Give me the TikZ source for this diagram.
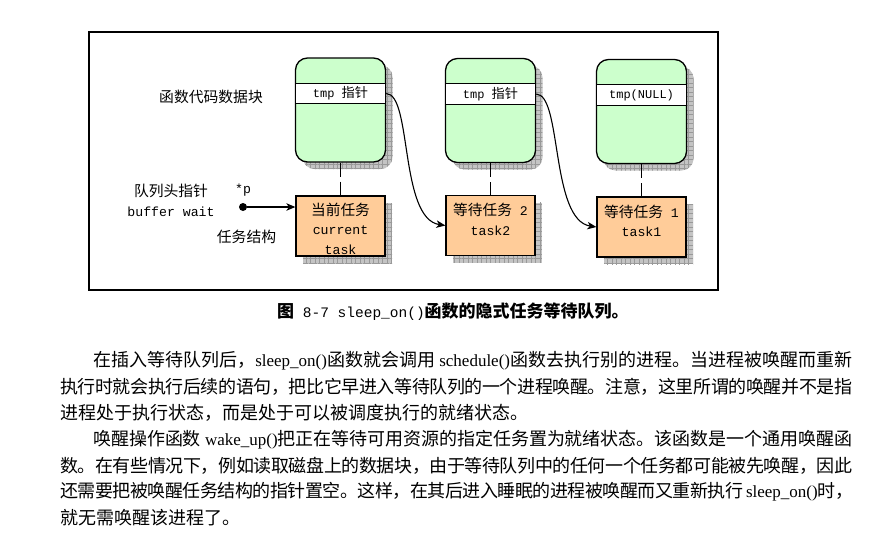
\documentclass[tikz,border=0pt]{standalone}
\usepackage{fontspec}
\setmainfont{Liberation Serif}
\setmonofont{Liberation Mono}
\newfontfamily\cjkfont{Noto Sans CJK SC}
\usetikzlibrary{positioning,arrows.meta,shadows,patterns.meta}

\definecolor{blockgreen}{HTML}{CCFFCC}
\definecolor{taskorange}{HTML}{FFCC99}
\definecolor{shadowgray}{HTML}{C4C4C4}

% CJK runs switch to the CJK font by themselves
\newcount\cjkcnt
\ifdefined\newXeTeXintercharclass \newXeTeXintercharclass\cjkcls \else \chardef\cjkcls=7 \fi
\cjkcnt="3000
\loop \XeTeXcharclass\cjkcnt=\cjkcls \advance\cjkcnt by 1 \ifnum\cjkcnt<"3040 \repeat
\cjkcnt="4E00
\loop \XeTeXcharclass\cjkcnt=\cjkcls \advance\cjkcnt by 1 \ifnum\cjkcnt<"A000 \repeat
\cjkcnt="FF00
\loop \XeTeXcharclass\cjkcnt=\cjkcls \advance\cjkcnt by 1 \ifnum\cjkcnt<"FFF0 \repeat
\newcommand\cjkhook{\cjkfont}
\XeTeXinterchartoks 0 \cjkcls = {\begingroup\cjkhook}
\XeTeXinterchartoks 4095 \cjkcls = {\begingroup\cjkhook}
\XeTeXinterchartoks \cjkcls 0 = {\endgroup}
\XeTeXinterchartoks \cjkcls 4095 = {\endgroup}
\XeTeXinterchartoks \cjkcls \cjkcls = {\hskip 0pt plus 2pt minus 0.5pt\relax}
\XeTeXinterchartokenstate=1

% latin size, CJK size, baselineskip
\newcommand\mixfont[3]{\fontsize{#1}{#3}\selectfont
  \def\cjkhook{\cjkfont\fontsize{#2}{#3}\selectfont}}

\tikzset{
  grid shadow/.style={
    drop shadow={shadow xshift=7pt,shadow yshift=-7pt,fill=shadowgray,opacity=1},
    drop shadow={shadow xshift=7pt,shadow yshift=-7pt,opacity=1,pattern color=black!40,
      pattern={Hatch[angle=0,distance=4.5pt,line width=0.4pt]}}},
  datablock/.style={grid shadow,draw,line width=1.3pt,fill=blockgreen,rounded corners=12pt,
    minimum width=90pt,minimum height=104pt,inner sep=0pt},
  ptrband/.style={fill=white,minimum width=88.6pt,minimum height=20pt,inner sep=0pt,
    font=\ttfamily\mixfont{12}{13.2}{14}},
  taskbox/.style={grid shadow,draw,line width=1.3pt,fill=taskorange,
    minimum width=89pt,minimum height=60pt,inner sep=0pt},
  tasktext/.style={align=center,inner sep=0pt,font=\ttfamily\mixfont{13.2}{14.7}{19.5}},
  lbl/.style={inner sep=0pt,font=\ttfamily\mixfont{13.2}{14.8}{21}},
  link/.style={-{Stealth[length=9pt,width=7.5pt,inset=2.5pt]},line width=1.1pt},
  tie/.style={line width=1.1pt,dash pattern=on 14pt off 5pt},
  capline/.style={anchor=west,inner sep=0pt,font=\ttfamily\fontsize{14.5}{20}\selectfont
    \def\cjkhook{\cjkfont\bfseries\fontsize{17}{20}\selectfont}},
  paraline/.style={anchor=west,inner sep=0pt,font=\rmfamily\mixfont{17}{18}{26}},
}

\begin{document}
\begin{tikzpicture}[x=1pt,y=-1pt]
  \fill[white] (0,0) rectangle (890,533);
  \useasboundingbox (0,0) rectangle (890,533);

  % the frame
  \draw[line width=1.3pt] (89,32) rectangle (718,290);

  % data blocks with the tmp pointer
  \node[datablock] (blk1) at (340.5,110) {};
  \node[datablock] (blk2) at (490.5,110.5) {};
  \node[datablock] (blk3) at (641.5,111.5) {};
  \node[ptrband, below=26pt of blk1.north] (tmp1) {tmp 指针};
  \node[ptrband, below=26pt of blk2.north] (tmp2) {tmp 指针};
  \node[ptrband, below=26pt of blk3.north] (tmp3) {tmp(NULL)};
  \foreach \band in {tmp1,tmp2,tmp3}
    \draw[line width=0.9pt] (\band.north west) -- (\band.north east)
                            (\band.south west) -- (\band.south east);

  % task structures
  \node[taskbox] (task1) at (340.5,226) {};
  \node[taskbox] (task2) at (490.5,225.5) {};
  \node[taskbox] (task3) at (641.5,227) {};
  \node[tasktext] (cur)   at (340.5,228.5) {当前任务\\current\\task};
  \node[tasktext] (wait2) at (490.5,219.5) {等待任务 2\\task2};
  \node[tasktext] (wait1) at (641.5,221)   {等待任务 1\\task1};

  \draw[tie] (blk1.south) -- (task1.north);
  \draw[tie] (blk2.south) -- (task2.north);
  \draw[tie] (blk3.south) -- (task3.north);

  % the queue
  \draw[link] (blk1.east |- tmp1.east) .. controls +(26,0) and +(-46,-7) .. (task2.west);
  \draw[link] (blk2.east |- tmp2.east) .. controls +(26,0) and +(-46,-7) .. (task3.west);
  \node[circle,fill,inner sep=0pt,minimum size=8pt] (head) at (243,207) {};
  \draw[link] (head) -- (head -| task1.west);

  % labels
  \node[lbl] (blklbl) at (211,97)    {函数代码数据块};
  \node[lbl] (qlbl)   at (171,191)   {队列头指针};
  \node[lbl] (bwlbl)  at (171,212)   {buffer wait};
  \node[lbl] (plbl)   at (243,190)   {*p};
  \node[lbl] (tslbl)  at (246.5,237) {任务结构};

  % caption and text below
  \node[capline] (cap) at (277,312) {\bfseries 图 {\mdseries 8-7 sleep\_on()}函数的隐式任务等待队列。};
  \node[paraline] (l1) at (93,361) {\hbox to 759pt{在插入等待队列后，sleep\_on()函数就会调用 schedule()函数去执行别的进程。当进程被唤醒而重新}};
  \node[paraline] (l2) at (60,387) {\hbox to 792pt{执行时就会执行后续的语句，把比它早进入等待队列的一个进程唤醒。注意，这里所谓的唤醒并不是指}};
  \node[paraline] (l3) at (60,413) {进程处于执行状态，而是处于可以被调度执行的就绪状态。};
  \node[paraline] (l4) at (93,440) {\hbox to 759pt{唤醒操作函数 wake\_up()把正在等待可用资源的指定任务置为就绪状态。该函数是一个通用唤醒函}};
  \node[paraline] (l5) at (60,466) {\hbox to 792pt{数。在有些情况下，例如读取磁盘上的数据块，由于等待队列中的任何一个任务都可能被先唤醒，因此}};
  \node[paraline] (l6) at (60,492) {\hbox to 792pt{还需要把被唤醒任务结构的指针置空。这样，在其后进入睡眠的进程被唤醒而又重新执行 sleep\_on()时，}};
  \node[paraline] (l7) at (60,518) {就无需唤醒该进程了。};
\end{tikzpicture}
\end{document}
